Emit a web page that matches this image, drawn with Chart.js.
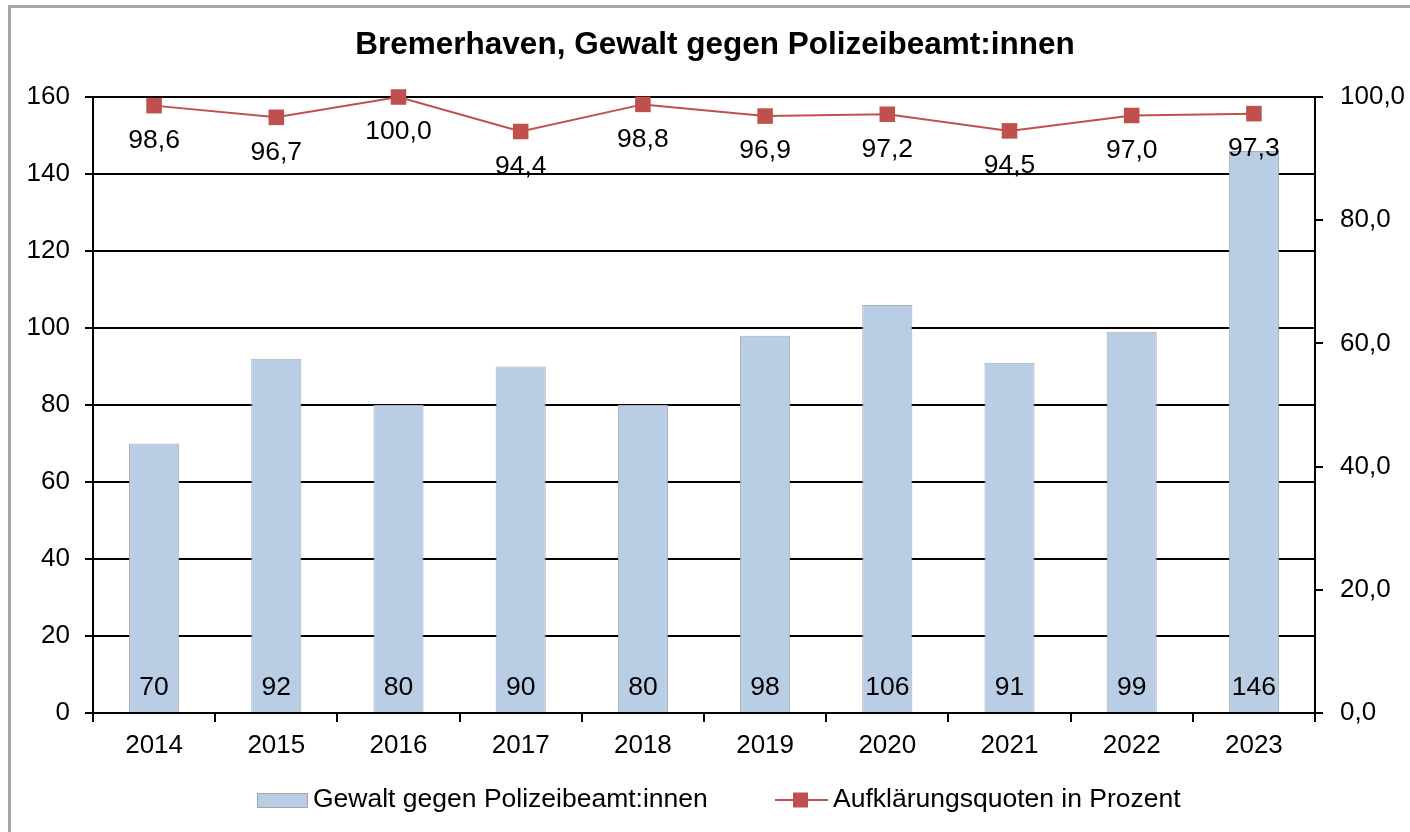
<!DOCTYPE html>
<html>
<head>
<meta charset="utf-8">
<title>Bremerhaven, Gewalt gegen Polizeibeamt:innen</title>
<script src="https://cdn.jsdelivr.net/npm/chart.js@4/dist/chart.umd.min.js"></script>
<style>
    body { margin: 0; background: #fff; overflow: hidden; }
    #frame { position: absolute; left: 8px; top: 5px; width: 1500px; height: 900px; border: 3px solid #a6a6a6; }
    #myChart { position: absolute; left: 0; top: 0; }
</style>
</head>
<body>
<div id="frame"></div>
<canvas id="myChart" width="1410" height="832"></canvas>
<script>
var years = ['2014', '2015', '2016', '2017', '2018', '2019', '2020', '2021', '2022', '2023'];
var faelle = [70, 92, 80, 90, 80, 98, 106, 91, 99, 146];
var quoten = [98.6, 96.7, 100.0, 94.4, 98.8, 96.9, 97.2, 94.5, 97.0, 97.3];
var titel = 'Bremerhaven, Gewalt gegen Polizeibeamt:innen';

var barColor = '#b9cde5';
var lineColor = '#c0504d';
var font = 'Liberation Sans, Arial, sans-serif';

function komma(v) {
    return v.toFixed(1).replace('.', ',');
}

// Werte an Balken und Punkten
var labelPlugin = {
    id: 'werte',
    afterDatasetsDraw: function(chart) {
        var ctx = chart.ctx;
        ctx.save();
        ctx.font = '26.5px ' + font;
        ctx.fillStyle = '#000';
        ctx.textAlign = 'center';
        ctx.textBaseline = 'middle';
        var base = chart.scales.y.getPixelForValue(0);
        chart.getDatasetMeta(1).data.forEach(function(el, i) {
            ctx.fillText(String(faelle[i]), el.x, base - 25);
        });
        chart.getDatasetMeta(0).data.forEach(function(el, i) {
            ctx.fillText(komma(quoten[i]), el.x, el.y + 35);
        });
        ctx.restore();
    }
};

// Titel und Legende
var legendPlugin = {
    id: 'legende',
    afterDraw: function(chart) {
        var ctx = chart.ctx;
        ctx.save();
        ctx.fillStyle = '#000';
        ctx.textBaseline = 'middle';
        ctx.textAlign = 'center';
        ctx.font = 'bold 31.5px ' + font;
        ctx.fillText(titel, 715, 45);

        var y = 800;
        ctx.textAlign = 'left';
        ctx.font = '26.5px ' + font;

        var x = 257;
        ctx.fillStyle = barColor;
        ctx.fillRect(x, y - 7, 50, 14);
        ctx.strokeStyle = '#a6a6a6';
        ctx.lineWidth = 1;
        ctx.strokeRect(x + 0.5, y - 6.5, 50, 14);
        ctx.fillStyle = '#000';
        ctx.fillText(chart.data.datasets[1].label, x + 56, y);

        x = 775;
        ctx.strokeStyle = lineColor;
        ctx.lineWidth = 2;
        ctx.beginPath();
        ctx.moveTo(x, y);
        ctx.lineTo(x + 53, y);
        ctx.stroke();
        ctx.fillStyle = lineColor;
        ctx.fillRect(x + 18, y - 7.5, 15, 15);
        ctx.fillStyle = '#000';
        ctx.fillText(chart.data.datasets[0].label, x + 58, y);
        ctx.restore();
    }
};

var chart = new Chart(document.getElementById('myChart').getContext('2d'), {
    type: 'bar',
    data: {
        labels: years,
        datasets: [
            {
                type: 'line',
                label: 'Aufklärungsquoten in Prozent',
                data: quoten,
                yAxisID: 'y1',
                borderColor: lineColor,
                backgroundColor: lineColor,
                borderWidth: 2,
                pointStyle: 'rect',
                pointRadius: 11,
                pointBorderWidth: 0,
                tension: 0,
                clip: false,
                order: 0
            },
            {
                type: 'bar',
                label: 'Gewalt gegen Polizeibeamt:innen',
                data: faelle,
                yAxisID: 'y',
                backgroundColor: barColor,
                borderColor: '#a6adb8',
                borderWidth: 1,
                categoryPercentage: 1,
                barPercentage: 0.41,
                order: 1
            }
        ]
    },
    options: {
        responsive: false,
        animation: false,
        layout: { padding: { left: 0, right: 0, top: 97, bottom: 0 } },
        plugins: {
            legend: { display: false },
            tooltip: { enabled: false },
            title: { display: false }
        },
        scales: {
            x: {
                offset: true,
                grid: { offset: true, drawOnChartArea: false, color: '#000', lineWidth: 2, tickLength: 9 },
                border: { color: '#000', width: 2 },
                ticks: { color: '#000', font: { family: font, size: 26 }, padding: 8, maxRotation: 0 },
                afterFit: function(scale) { scale.height = 119; }
            },
            y: {
                position: 'left',
                min: 0,
                max: 160,
                ticks: { stepSize: 20, color: '#000', font: { family: font, size: 26 }, padding: 15 },
                grid: { color: '#000', lineWidth: 2, tickLength: 8 },
                border: { color: '#000', width: 2 },
                afterFit: function(scale) { scale.width = 93; }
            },
            y1: {
                position: 'right',
                min: 0,
                max: 100,
                ticks: {
                    stepSize: 20,
                    color: '#000',
                    font: { family: font, size: 26 },
                    padding: 17,
                    callback: function(v) { return komma(v); }
                },
                grid: { drawOnChartArea: false, color: '#000', lineWidth: 2, tickLength: 8 },
                border: { color: '#000', width: 2 },
                afterFit: function(scale) { scale.width = 95; }
            }
        }
    },
    plugins: [labelPlugin, legendPlugin]
});
</script>
</body>
</html>
